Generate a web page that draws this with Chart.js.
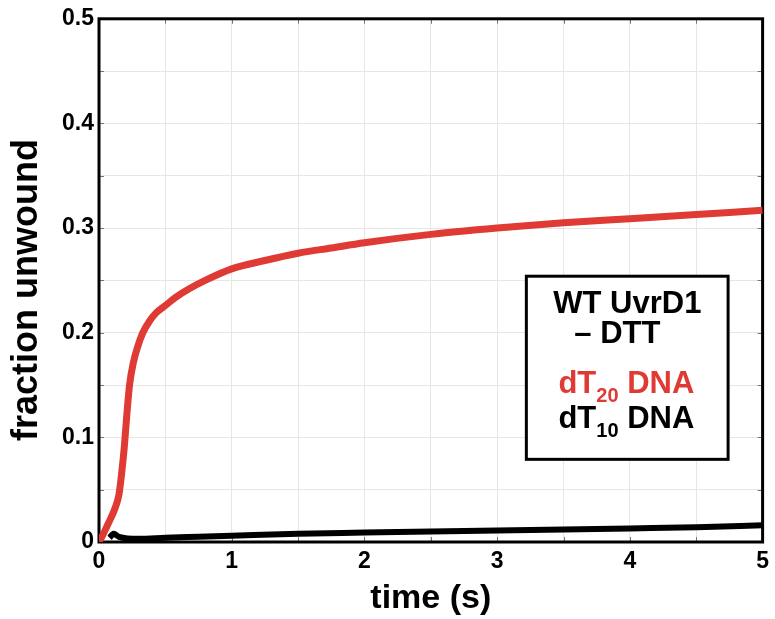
<!DOCTYPE html>
<html>
<head>
<meta charset="utf-8">
<script src="https://cdn.jsdelivr.net/npm/chart.js@4.4.1/dist/chart.umd.min.js"></script>
<style>
  html, body { margin: 0; padding: 0; background: #fff; }
  #wrap { width: 775px; height: 619px; }
</style>
</head>
<body>
<div id="wrap"><canvas id="myChart"></canvas></div>
<script>
// valores
const redTime = [0, 0.03, 0.06, 0.09, 0.12, 0.15, 0.17, 0.19, 0.21, 0.23, 0.26, 0.29, 0.33, 0.38, 0.43, 0.5, 0.58, 0.68, 0.8, 1.0, 1.25, 1.5, 1.75, 2.0, 2.5, 3.0, 3.5, 4.0, 4.5, 5.0];
const redFraction = [0, 0.007, 0.015, 0.023, 0.032, 0.045, 0.065, 0.090, 0.122, 0.150, 0.172, 0.186, 0.200, 0.211, 0.219, 0.226, 0.234, 0.242, 0.250, 0.261, 0.269, 0.276, 0.281, 0.286, 0.294, 0.300, 0.305, 0.309, 0.313, 0.317];

const blackTime = [0.08, 0.11, 0.15, 0.3, 0.5, 0.75, 1.0, 1.5, 2.0, 2.5, 3.0, 3.5, 4.0, 4.5, 5.0];
const blackFraction = [0.004, 0.008, 0.005, 0.003, 0.004, 0.005, 0.006, 0.008, 0.009, 0.010, 0.011, 0.012, 0.013, 0.014, 0.016];

const xTicks = [0, 1, 2, 3, 4, 5];
const yTicks = [0, 0.1, 0.2, 0.3, 0.4, 0.5];

const FONT = "'Liberation Sans', Arial, Helvetica, sans-serif";

const toPoints = (xs, ys) => xs.map((x, i) => ({ x: x, y: ys[i] }));

// moldura preta + tracinhos internos + titulo do eixo y
const framePlugin = {
    id: 'frame',
    beforeDatasetsDraw(chart) {
        const { ctx, chartArea: a, scales } = chart;
        ctx.save();
        ctx.strokeStyle = '#777';
        ctx.lineWidth = 1;
        const tl = 5;
        for (let v = 0; v <= 5.0001; v += 0.5) {
            const px = Math.round(scales.x.getPixelForValue(v)) + 0.5;
            ctx.beginPath();
            ctx.moveTo(px, a.bottom); ctx.lineTo(px, a.bottom - tl);
            ctx.moveTo(px, a.top); ctx.lineTo(px, a.top + tl);
            ctx.stroke();
        }
        for (let v = 0; v <= 0.5001; v += 0.05) {
            const py = Math.round(scales.y.getPixelForValue(v)) + 0.5;
            ctx.beginPath();
            ctx.moveTo(a.left, py); ctx.lineTo(a.left + tl, py);
            ctx.moveTo(a.right, py); ctx.lineTo(a.right - tl, py);
            ctx.stroke();
        }
        ctx.strokeStyle = '#000';
        ctx.lineWidth = 3;
        ctx.strokeRect(a.left, a.top, a.right - a.left, a.bottom - a.top);

        ctx.translate(37, 290);
        ctx.rotate(-Math.PI / 2);
        ctx.font = 'bold 36px ' + FONT;
        ctx.fillStyle = '#000';
        ctx.textAlign = 'center';
        ctx.textBaseline = 'alphabetic';
        ctx.fillText('fraction unwound', 0, 0);
        ctx.restore();
    }
};

// caixa de legenda
const boxPlugin = {
    id: 'legendBox',
    afterDatasetsDraw(chart) {
        const { ctx, scales } = chart;
        const x0 = scales.x.getPixelForValue(3.22);
        const x1 = scales.x.getPixelForValue(4.74);
        const y0 = scales.y.getPixelForValue(0.254);
        const y1 = scales.y.getPixelForValue(0.079);
        ctx.save();
        ctx.fillStyle = '#fff';
        ctx.fillRect(x0, y0, x1 - x0, y1 - y0);
        ctx.strokeStyle = '#000';
        ctx.lineWidth = 3;
        ctx.strokeRect(x0, y0, x1 - x0, y1 - y0);

        const big = 'bold 31px ' + FONT;
        const small = 'bold 20px ' + FONT;
        ctx.textBaseline = 'alphabetic';
        ctx.textAlign = 'center';
        ctx.font = big;
        ctx.fillStyle = '#000';
        ctx.fillText('WT UvrD1', x0 + 101, y0 + 37);
        ctx.fillText('\u2013 DTT', x0 + 91, y0 + 67);

        const drawSub = (sub, color, baseY) => {
            ctx.textAlign = 'left';
            ctx.fillStyle = color;
            ctx.font = big;
            const w1 = ctx.measureText('dT').width;
            ctx.font = small;
            const w2 = ctx.measureText(sub).width;
            ctx.font = big;
            const w3 = ctx.measureText(' DNA').width;
            let x = x0 + 100 - (w1 + w2 + w3) / 2;
            ctx.fillText('dT', x, baseY);
            x += w1;
            ctx.font = small;
            ctx.fillText(sub, x, baseY + 9);
            x += w2;
            ctx.font = big;
            ctx.fillText(' DNA', x, baseY);
        };
        drawSub('20', '#e03a35', y0 + 117);
        drawSub('10', '#000', y0 + 152);
        ctx.restore();
    }
};

const ctxLine = document.getElementById('myChart');

new Chart(ctxLine, {
    type: 'line',
    data: {
        datasets: [
            {
                label: 'dT20 DNA',
                data: toPoints(redTime, redFraction),
                borderColor: '#e03a35',
                borderWidth: 7,
                pointRadius: 0,
                cubicInterpolationMode: 'monotone',
                order: 0
            },
            {
                label: 'dT10 DNA',
                data: toPoints(blackTime, blackFraction),
                borderColor: '#000',
                borderWidth: 6,
                pointRadius: 0,
                cubicInterpolationMode: 'monotone',
                order: 1
            }
        ]
    },
    options: {
        responsive: true,
        maintainAspectRatio: false,
        animation: false,
        layout: { padding: { left: 0, right: 12, top: 16, bottom: 0 } },
        plugins: {
            legend: { display: false },
            tooltip: { enabled: false }
        },
        scales: {
            x: {
                type: 'linear',
                min: 0,
                max: 5,
                afterFit: s => { s.height = 77; },
                border: { display: false },
                grid: { color: '#e6e6e6', lineWidth: 1, drawTicks: false },
                ticks: {
                    stepSize: 0.5,
                    padding: 6,
                    color: '#000',
                    font: { family: FONT, size: 23, weight: 'bold' },
                    maxRotation: 0,
                    autoSkip: false,
                    callback: v => xTicks.includes(Math.round(v * 100) / 100) ? String(Math.round(v)) : ''
                },
                title: {
                    display: true,
                    text: 'time (s)',
                    color: '#000',
                    font: { family: FONT, size: 34, weight: 'bold' },
                    padding: { top: 0, bottom: 0 }
                }
            },
            y: {
                min: 0,
                max: 0.5,
                afterFit: s => { s.width = 99; },
                border: { display: false },
                grid: { color: '#e6e6e6', lineWidth: 1, drawTicks: false },
                ticks: {
                    stepSize: 0.05,
                    padding: 5,
                    color: '#000',
                    font: { family: FONT, size: 23, weight: 'bold' },
                    autoSkip: false,
                    callback: v => {
                        const r = Math.round(v * 100) / 100;
                        if (!yTicks.includes(r)) return '';
                        return r === 0 ? '0' : r.toFixed(1);
                    }
                },
                title: { display: false }
            }
        }
    },
    plugins: [framePlugin, boxPlugin]
});
</script>
</body>
</html>
